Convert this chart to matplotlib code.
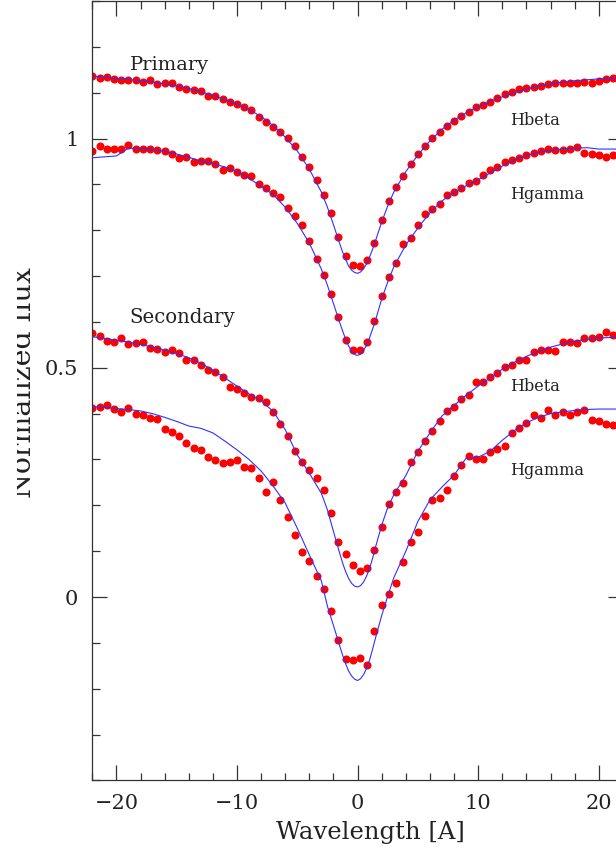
import numpy as np
import matplotlib
matplotlib.use("Agg")
from matplotlib import pyplot as plt
from matplotlib.ticker import MultipleLocator, FormatStrFormatter
from matplotlib.transforms import Bbox, TransformedBbox

plt.rcParams['font.family'] = ['DejaVu Serif']

# wavelength grid of the observed spectra (0.6 A sampling)
wave = np.round(np.arange(-22.0, 21.3, 0.6), 1)

prim_hbeta = [1.137, 1.132, 1.135, 1.129, 1.128, 1.128, 1.127, 1.124, 1.127, 1.119,
              1.121, 1.120, 1.113, 1.109, 1.105, 1.104, 1.093, 1.092, 1.086, 1.080,
              1.076, 1.068, 1.062, 1.048, 1.036, 1.025, 1.015, 1.002, 0.983, 0.960,
              0.937, 0.909, 0.877, 0.837, 0.786, 0.744, 0.725, 0.721, 0.736, 0.772,
              0.823, 0.863, 0.894, 0.918, 0.945, 0.966, 0.983, 1.001, 1.014, 1.028,
              1.039, 1.049, 1.057, 1.068, 1.073, 1.080, 1.089, 1.096, 1.101, 1.108,
              1.111, 1.113, 1.115, 1.119, 1.121, 1.122, 1.122, 1.121, 1.123, 1.122,
              1.126, 1.129, 1.131]

prim_hgamma = [0.973, 0.983, 0.977, 0.978, 0.977, 0.985, 0.977, 0.978, 0.977, 0.976,
               0.972, 0.967, 0.957, 0.959, 0.948, 0.950, 0.951, 0.944, 0.932, 0.935,
               0.926, 0.920, 0.918, 0.901, 0.891, 0.882, 0.872, 0.849, 0.831, 0.812,
               0.776, 0.738, 0.702, 0.662, 0.610, 0.560, 0.538, 0.538, 0.557, 0.603,
               0.656, 0.699, 0.729, 0.769, 0.783, 0.812, 0.835, 0.847, 0.858, 0.876,
               0.883, 0.893, 0.903, 0.907, 0.920, 0.932, 0.937, 0.948, 0.953, 0.958,
               0.965, 0.969, 0.972, 0.978, 0.975, 0.975, 0.977, 0.981, 0.969, 0.966,
               0.964, 0.959, 0.965]

sec_hbeta = [0.575, 0.569, 0.558, 0.557, 0.564, 0.552, 0.554, 0.556, 0.543, 0.541,
             0.534, 0.538, 0.533, 0.517, 0.518, 0.507, 0.496, 0.491, 0.479, 0.459,
             0.453, 0.445, 0.437, 0.434, 0.426, 0.404, 0.377, 0.352, 0.319, 0.295,
             0.278, 0.260, 0.233, 0.183, 0.119, 0.094, 0.070, 0.056, 0.063, 0.102,
             0.153, 0.204, 0.230, 0.248, 0.295, 0.317, 0.341, 0.362, 0.385, 0.405,
             0.415, 0.432, 0.440, 0.468, 0.470, 0.479, 0.488, 0.502, 0.506, 0.516,
             0.517, 0.534, 0.539, 0.538, 0.537, 0.556, 0.556, 0.555, 0.564, 0.564,
             0.568, 0.579, 0.571]

sec_hgamma = [0.413, 0.415, 0.418, 0.410, 0.403, 0.413, 0.400, 0.396, 0.391, 0.389,
              0.367, 0.359, 0.351, 0.335, 0.324, 0.320, 0.306, 0.298, 0.293, 0.295,
              0.298, 0.284, 0.282, 0.259, 0.230, 0.252, 0.211, 0.175, 0.136, 0.099,
              0.078, 0.047, 0.017, -0.031, -0.094, -0.135, -0.137, -0.133, -0.148, -0.073,
              -0.018, 0.007, 0.030, 0.076, 0.119, 0.141, 0.176, 0.211, 0.217, 0.234,
              0.263, 0.287, 0.307, 0.300, 0.301, 0.317, 0.322, 0.330, 0.358, 0.369,
              0.380, 0.397, 0.391, 0.409, 0.398, 0.403, 0.396, 0.403, 0.407, 0.386,
              0.383, 0.378, 0.376]

# synthetic (model) profiles, finer sampling in the line core
model_wave = [-22, -21, -20, -19, -18, -17, -16, -15, -14, -13, -12, -11, -10, -9, -8, -7, -6, -5, -4,
              -3, -2.5, -2,
              -1.5, -1.25, -1, -0.75, -0.5, -0.25, 0, 0.25, 0.5, 0.75, 1, 1.25, 1.5,
              2, 2.5, 3,
              4, 5, 6, 7, 8, 9, 10, 11, 12, 13, 14, 15, 16, 17, 18, 19, 20, 21, 22]

model_prim_hbeta = [1.136, 1.134, 1.131, 1.129, 1.126, 1.123, 1.119, 1.115, 1.109, 1.102,
                    1.094, 1.085, 1.075, 1.063, 1.048, 1.028, 1.003, 0.973, 0.933,
                    0.883, 0.850, 0.812,
                    0.772, 0.753, 0.737, 0.722, 0.713, 0.708, 0.706, 0.709, 0.716, 0.727, 0.742, 0.759, 0.778,
                    0.818, 0.853, 0.883,
                    0.928, 0.964, 0.995, 1.020, 1.040, 1.056, 1.069, 1.081, 1.091, 1.100,
                    1.108, 1.114, 1.119, 1.123, 1.126, 1.128, 1.130, 1.131, 1.132]

model_prim_hgamma = [0.958, 0.960, 0.962, 0.979, 0.978, 0.976, 0.972, 0.966, 0.959, 0.951,
                     0.945, 0.938, 0.928, 0.913, 0.896, 0.878, 0.850, 0.815, 0.772,
                     0.715, 0.680, 0.640,
                     0.600, 0.581, 0.563, 0.548, 0.536, 0.529, 0.527, 0.530, 0.538, 0.550, 0.566, 0.585, 0.605,
                     0.650, 0.687, 0.720,
                     0.768, 0.805, 0.838, 0.864, 0.882, 0.897, 0.910, 0.925, 0.940, 0.953,
                     0.963, 0.970, 0.974, 0.977, 0.979, 0.980, 0.977, 0.977, 0.977]

model_sec_hbeta = [0.568, 0.564, 0.560, 0.556, 0.551, 0.545, 0.538, 0.531, 0.522, 0.510,
                   0.495, 0.478, 0.460, 0.443, 0.428, 0.405, 0.365, 0.310, 0.270,
                   0.226, 0.190, 0.143,
                   0.097, 0.075, 0.056, 0.041, 0.030, 0.024, 0.022, 0.025, 0.033, 0.046, 0.063, 0.085, 0.110,
                   0.157, 0.195, 0.223,
                   0.265, 0.318, 0.358, 0.395, 0.418, 0.440, 0.460, 0.478, 0.497, 0.512,
                   0.525, 0.536, 0.545, 0.552, 0.558, 0.562, 0.565, 0.566, 0.567]

model_sec_hgamma = [0.415, 0.414, 0.411, 0.409, 0.406, 0.400, 0.392, 0.383, 0.373, 0.368,
                    0.358, 0.340, 0.321, 0.300, 0.275, 0.242, 0.205, 0.150, 0.092,
                    0.035, -0.020, -0.062,
                    -0.105, -0.126, -0.145, -0.161, -0.172, -0.179, -0.182, -0.178, -0.169, -0.155, -0.137, -0.113, -0.088,
                    -0.040, 0.002, 0.042,
                    0.100, 0.165, 0.212, 0.240, 0.266, 0.303, 0.305, 0.318, 0.342, 0.363,
                    0.380, 0.392, 0.400, 0.404, 0.407, 0.409, 0.410, 0.410, 0.410]

fig = plt.figure(figsize=(6.16, 8.59), dpi=100)
# axes runs a bit past the right edge, like the cropped original
ax = fig.add_axes([0.1498, 0.0914, 0.8614, 0.9075])

for obs in (prim_hbeta, prim_hgamma, sec_hbeta, sec_hgamma):
    ax.plot(wave, obs, 'o', color='#ff0000', markersize=5.8, markeredgewidth=0, zorder=2)
for mod in (model_prim_hbeta, model_prim_hgamma, model_sec_hbeta, model_sec_hgamma):
    ax.plot(model_wave, mod, '-', color='#3030ff', linewidth=0.8, zorder=3)

ax.set_xlim(-22, 22)
ax.set_ylim(-0.4, 1.3)

txt = '#222222'
ax.text(-18.87, 1.149, 'Primary', fontsize=14, color=txt)
ax.text(-18.95, 0.598, 'Secondary', fontsize=14.2, color=txt)
ax.text(12.64, 1.029, 'Hbeta', fontsize=11.6, color=txt)
ax.text(12.64, 0.869, 'Hgamma', fontsize=11.6, color=txt)
ax.text(12.64, 0.449, 'Hbeta', fontsize=11.6, color=txt)
ax.text(12.64, 0.267, 'Hgamma', fontsize=11.6, color=txt)

ax.xaxis.set_major_locator(MultipleLocator(10))
ax.xaxis.set_minor_locator(MultipleLocator(2))
ax.yaxis.set_major_locator(MultipleLocator(0.5))
ax.yaxis.set_minor_locator(MultipleLocator(0.1))
ax.yaxis.set_major_formatter(FormatStrFormatter('%g'))

ax.tick_params(which='both', direction='in', top=True, right=True, color='#333333', width=0.9)
ax.tick_params(which='major', length=10.8, labelsize=15, pad=10, labelcolor=txt)
ax.tick_params(which='minor', length=5.4)
for s in ax.spines.values():
    s.set_color('#333333')
    s.set_linewidth(0.9)

ax.set_xlabel('Wavelength [A]', fontsize=17.5, color=txt)
ylab = ax.set_ylabel('Normalized flux', fontsize=20.5, color=txt)
ax.xaxis.set_label_coords(0.524, -0.052)
ax.yaxis.set_label_coords(-0.105, 0.511)

# the original y label is clipped on its left side
ylab.set_clip_box(TransformedBbox(Bbox([[17 / 616, 0], [1, 1]]), fig.transFigure))
ylab.set_clip_on(True)

fig.savefig('out.png', dpi=100)
